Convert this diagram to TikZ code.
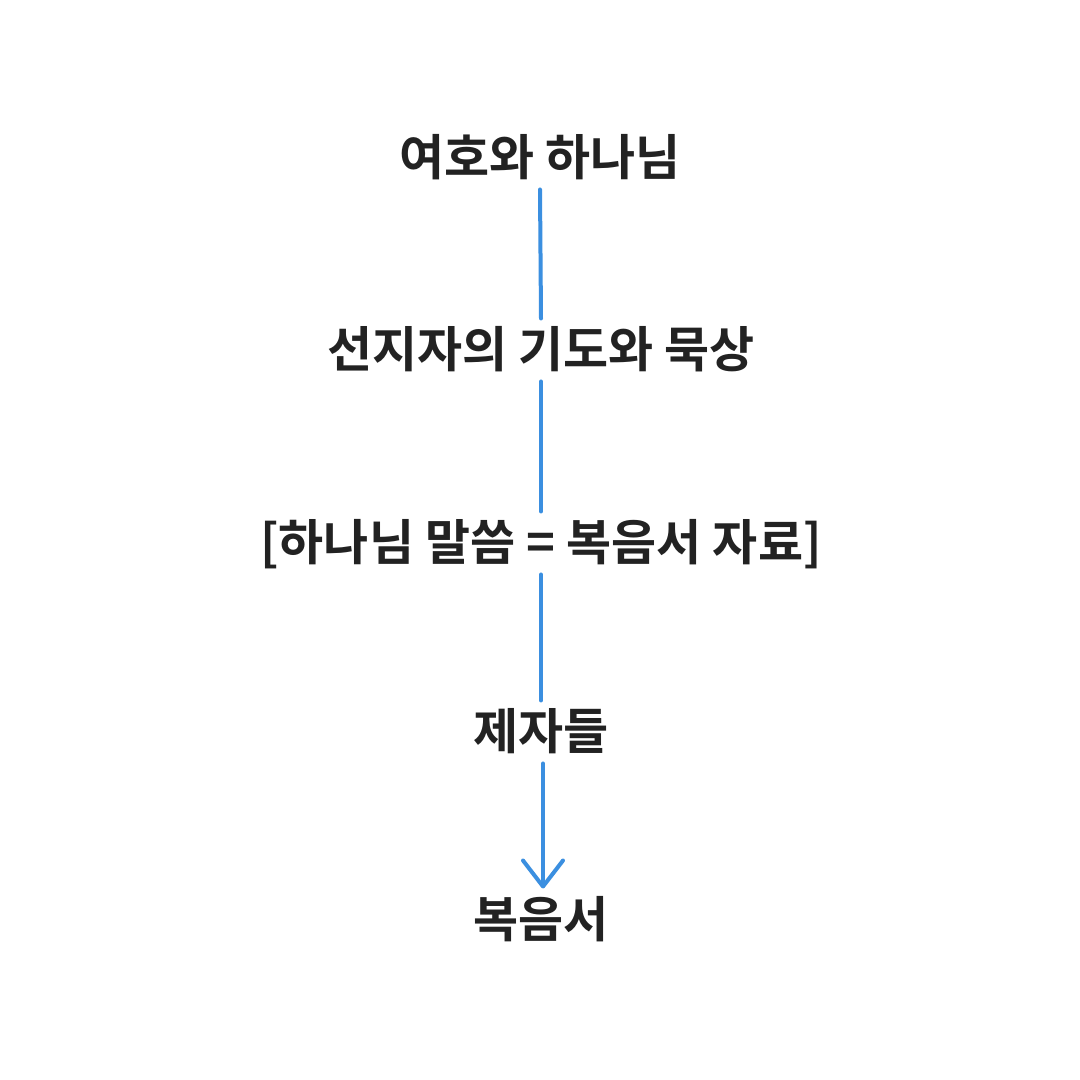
\documentclass[tikz,border=0pt]{standalone}
\usepackage{fontspec}
\setmainfont{Noto Sans CJK KR}[BoldFont={* Bold}]
\usetikzlibrary{arrows.meta}
\definecolor{txt}{HTML}{222222}
\definecolor{ln}{HTML}{3B8FE0}
\tikzset{
  lbl/.style={font=\fontsize{49}{56}\selectfont\bfseries, text=txt, inner sep=0pt,
    text height=39pt, text depth=4pt, outer sep=10pt, anchor=center},
  conn/.style={draw=ln, line width=4pt, line cap=round},
}
\begin{document}
\begin{tikzpicture}[x=1pt,y=1pt]
\useasboundingbox (0,0) rectangle (1080,1080);
\fill[white] (0,0) rectangle (1080,1080);
\node[lbl] (a) at (540,922) {여호와 하나님};
\node[lbl] (b) at (541,730) {선지자의 기도와 묵상};
\node[lbl] (c) at (541,537) {[하나님 말씀 = 복음서 자료]};
\node[lbl] (d) at (541,348) {제자들};
\node[lbl] (e) at (541,160) {복음서};
\draw[conn] (a.south) -- (b.north);
\draw[conn] (b.south) -- (c.north);
\draw[conn] (c.south) -- (d.north);
\draw[conn, -{Straight Barb[length=26pt,width=40pt,round]}] ([xshift=2pt]d.south) -- ([xshift=2pt]e.north);
\end{tikzpicture}
\end{document}
